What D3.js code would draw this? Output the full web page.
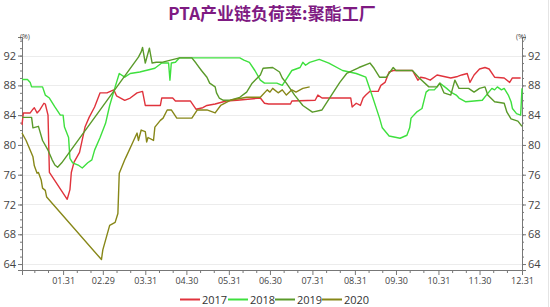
<!DOCTYPE html>
<html><head><meta charset="utf-8">
<script src="https://cdn.jsdelivr.net/npm/d3@7"></script>
<style>
body{margin:0;background:#fff;}
svg{display:block;font-family:"Open Sans","Noto Sans","Noto Sans CJK SC",sans-serif;}
</style>
</head><body>
<svg id="chart" width="550" height="307"></svg>
<script>
const title = "PTA产业链负荷率:聚酯工厂";
const unitLabel = "(%)";
const years = ["2017", "2018", "2019", "2020"];
const seriesColors = ["#e0333c", "#3ee03e", "#5a9a2a", "#878718"];
const yTicks = [64, 68, 72, 76, 80, 84, 88, 92];
const xTickLabels = ["01.31","02.29","03.31","04.30","05.31","06.30","07.31","08.31","09.30","10.31","11.30","12.31"];

const dates2017 = ["01.01","01.02","01.07","01.09","01.10","01.12","01.14","01.17","01.18","01.20","01.21","02.03","02.05","02.06","02.08","02.12","02.16","02.19","02.23","02.27","03.03","03.08","03.10","03.16","03.20","03.25","03.29","03.31","04.11","04.12","04.20","04.22","05.03","05.07","05.12","05.15","05.21","05.29","06.06","06.23","06.26","06.29","07.15","07.16","08.02","08.04","08.07","08.28","08.29","09.01","09.04","09.06","09.08","09.11","09.17","09.19","09.22","09.25","09.28","10.12","10.16","10.18","10.21","10.25","10.30","11.04","11.09","11.14","11.17","11.21","11.23","11.26","11.30","12.04","12.07","12.11","12.18","12.22","12.24","12.30"];
const values2017 = [82.7,84.3,84.3,84.8,85.0,84.3,84.7,85.6,85.5,84.0,76.3,72.7,74.0,76.3,77.7,79.0,82.4,83.7,85.1,87.0,87.0,87.4,86.6,86.0,86.3,87.0,87.2,85.3,85.3,86.3,86.3,85.9,85.9,84.8,85.0,85.3,85.5,85.9,86.0,86.3,85.6,85.5,85.5,85.9,86.0,86.7,86.3,86.3,85.1,85.6,85.3,86.3,86.7,87.2,87.2,88.0,88.4,89.8,90.0,90.0,88.7,89.1,89.0,88.7,89.4,89.2,89.0,89.2,89.4,89.6,88.4,89.4,90.2,90.4,90.2,89.1,89.0,88.4,89.0,89.0];

const dates2018 = ["01.01","01.05","01.07","01.08","01.16","01.18","01.21","01.25","01.29","01.31","02.01","02.04","02.05","02.07","02.11","02.14","02.18","02.21","02.23","02.27","03.02","03.05","03.09","03.12","03.16","03.20","03.27","04.07","04.12","04.17","04.18","04.19","04.22","04.25","06.08","06.11","06.15","06.19","06.23","06.26","07.05","07.09","07.16","07.22","07.24","07.26","07.29","08.05","08.12","08.22","09.01","09.08","09.13","09.18","09.20","09.25","10.03","10.08","10.10","10.11","10.15","10.19","10.22","10.24","10.28","10.30","11.01","11.06","11.09","11.13","11.15","11.20","12.02","12.05","12.09","12.11","12.13","12.16","12.18","12.21","12.23","12.24","12.27","12.30","12.31"];
const values2018 = [88.8,88.8,88.4,87.8,87.8,86.7,86.3,85.1,84.0,84.0,82.4,81.0,78.2,77.6,77.3,76.9,77.6,78.0,79.3,81.0,82.9,85.3,87.8,89.6,89.1,89.6,89.8,90.3,91.0,91.0,88.7,91.0,91.1,91.7,91.7,91.4,91.1,90.0,88.7,88.3,88.3,88.0,90.0,90.4,91.1,90.7,91.1,91.5,91.0,90.0,89.6,89.1,86.4,83.6,82.3,81.2,80.9,81.3,82.3,83.6,84.4,84.9,87.1,87.4,87.4,87.8,88.3,87.6,87.1,86.7,86.3,85.8,86.0,86.7,87.6,87.4,87.8,87.4,87.6,86.7,85.8,84.9,84.2,84.0,87.6];

const dates2019 = ["01.01","01.08","01.09","01.13","01.16","01.20","01.23","01.25","01.27","01.30","03.26","03.28","03.29","03.31","04.03","04.05","04.08","04.12","04.25","05.04","05.07","05.11","05.15","05.17","05.21","05.22","05.24","05.27","06.01","06.08","06.13","06.17","06.23","06.25","07.02","07.07","07.09","07.12","07.18","07.24","07.31","08.07","08.15","08.20","08.25","09.03","09.11","09.14","09.18","09.23","09.28","09.30","10.12","10.17","10.24","10.30","11.01","11.04","11.09","11.12","11.15","11.22","11.26","11.30","12.04","12.06","12.11","12.18","12.20","12.23","12.28","12.31"];
const values2019 = [83.7,83.7,82.3,82.5,80.6,79.3,78.0,77.3,77.0,77.6,91.8,92.5,93.1,91.0,93.0,91.0,91.1,91.1,91.7,91.7,91.0,90.0,89.1,88.3,87.8,87.0,86.3,86.0,86.0,86.4,87.1,88.3,89.4,90.3,90.4,89.8,89.0,88.3,86.7,85.3,84.4,84.7,87.0,88.4,89.6,90.4,91.0,90.3,89.1,89.1,90.4,90.0,90.0,89.0,87.8,87.8,88.3,87.0,86.7,88.7,87.6,87.6,87.1,87.6,87.8,86.7,85.8,85.6,84.4,83.5,83.2,82.5];

const dates2020 = ["01.01","01.04","01.07","01.09","01.10","01.12","01.13","01.15","01.16","01.18","01.19","02.28","02.29","03.05","03.09","03.11","03.12","03.16","03.17","03.21","03.25","03.26","03.28","03.31","04.01","04.02","04.06","04.07","04.11","04.13","04.16","04.19","04.23","05.04","05.08","05.15","05.21","05.25","06.01","06.13","06.23","06.28","06.30","07.02","07.06","07.09","07.12","07.16","07.19","07.24","07.29"];
const values2020 = [81.6,80.6,79.3,78.4,77.2,76.2,76.3,75.3,74.2,73.9,73.0,64.6,65.9,69.2,69.6,70.8,76.2,78.0,78.4,80.0,81.6,80.6,82.0,81.8,80.4,81.0,80.6,82.4,83.3,83.6,84.7,84.7,83.6,83.6,84.7,84.7,84.3,85.3,86.0,86.4,86.4,87.4,87.1,87.6,87.0,87.4,86.7,87.4,87.1,87.6,87.8];

const allDates = [dates2017, dates2018, dates2019, dates2020];
const allValues = [values2017, values2018, values2019, values2020];

const parse = s => d3.timeParse("%Y.%m.%d")("2020." + s);

const svg = d3.select("#chart");
const W = 550, H = 307;
const m = {left: 22, right: 522, top: 37, bottom: 270};

const x = d3.scaleTime().domain([parse("01.01"), parse("12.31")]).range([m.left, m.right]);
const y = d3.scaleLinear().domain([63.2, 94.5]).range([m.bottom, m.top]);

// right frame line
svg.append("line").attr("x1", 548.5).attr("x2", 548.5).attr("y1", 0).attr("y2", H)
  .attr("stroke", "#e4e4e4");

// title
svg.append("text").attr("x", 272).attr("y", 20).attr("text-anchor", "middle")
  .attr("font-size", 17).attr("font-weight", "bold").attr("fill", "#7e1a82")
  .attr("font-family", "'Noto Sans CJK SC', sans-serif")
  .text(title);

// gridlines
svg.append("g").selectAll("line").data(yTicks).join("line")
  .attr("x1", m.left).attr("x2", m.right)
  .attr("y1", d => Math.round(y(d)) + 0.5).attr("y2", d => Math.round(y(d)) + 0.5)
  .attr("stroke", "#ececec");

// axes
const minorY = d3.range(64, 95, 1);
const yLeft = d3.axisLeft(y).tickValues(yTicks).tickFormat(d3.format("d")).tickSize(4).tickPadding(2);
const yRight = d3.axisRight(y).tickValues(yTicks).tickFormat(d3.format("d")).tickSize(4).tickPadding(2);
const yLeftMinor = d3.axisLeft(y).tickValues(minorY).tickFormat("").tickSize(2);
const yRightMinor = d3.axisRight(y).tickValues(minorY).tickFormat("").tickSize(2);

function styleAxis(g, fs) {
  g.select(".domain").attr("stroke", "#777");
  g.selectAll(".tick line").attr("stroke", "#777");
  g.selectAll(".tick text").attr("fill", "#444").attr("font-size", fs)
    .attr("font-family", "'Open Sans', sans-serif");
}

svg.append("g").attr("transform", `translate(${m.left},0)`).call(yLeftMinor).call(g => styleAxis(g, 10));
svg.append("g").attr("transform", `translate(${m.left},0)`).call(yLeft).call(g => styleAxis(g, 11));
svg.append("g").attr("transform", `translate(${m.right},0)`).call(yRightMinor).call(g => styleAxis(g, 10));
svg.append("g").attr("transform", `translate(${m.right},0)`).call(yRight).call(g => styleAxis(g, 11));

// x axis: major ticks at month ends, minor at 10th and 20th
const majorX = xTickLabels.map(parse);
const minorX = [];
for (let k = 1; k <= 12; k++) {
  const mm = String(k).padStart(2, "0");
  minorX.push(parse(mm + ".10"), parse(mm + ".20"));
}
const xMinor = d3.axisBottom(x).tickValues(minorX).tickFormat("").tickSize(3);
const xMajor = d3.axisBottom(x).tickValues(majorX).tickFormat(d3.timeFormat("%m.%d")).tickSize(5).tickPadding(3);
svg.append("g").attr("transform", `translate(0,${m.bottom})`).call(xMinor).call(g => styleAxis(g, 9));
svg.append("g").attr("transform", `translate(0,${m.bottom})`).call(xMajor).call(g => styleAxis(g, 9));

// unit labels
svg.append("text").attr("x", 20).attr("y", 39).attr("font-size", 7).attr("fill", "#444").text(unitLabel);
svg.append("text").attr("x", 516).attr("y", 39).attr("font-size", 7).attr("fill", "#444").text(unitLabel);

// lines
const line = d3.line().x(d => x(d[0])).y(d => y(d[1]));
years.forEach((yr, i) => {
  const pts = allDates[i].map((d, j) => [parse(d), allValues[i][j]]);
  svg.append("path").datum(pts)
    .attr("fill", "none").attr("stroke", seriesColors[i]).attr("stroke-width", 1.4)
    .attr("stroke-linejoin", "round")
    .attr("d", line);
});

// legend
const legendX = [180, 228, 275, 322];
const lg = svg.append("g");
years.forEach((yr, i) => {
  lg.append("line").attr("x1", legendX[i]).attr("x2", legendX[i] + 20)
    .attr("y1", 299.5).attr("y2", 299.5).attr("stroke", seriesColors[i]).attr("stroke-width", 2);
  lg.append("text").attr("x", legendX[i] + 22).attr("y", 303.5)
    .attr("font-size", 11).attr("fill", "#333").text(yr);
});
</script>
</body></html>
